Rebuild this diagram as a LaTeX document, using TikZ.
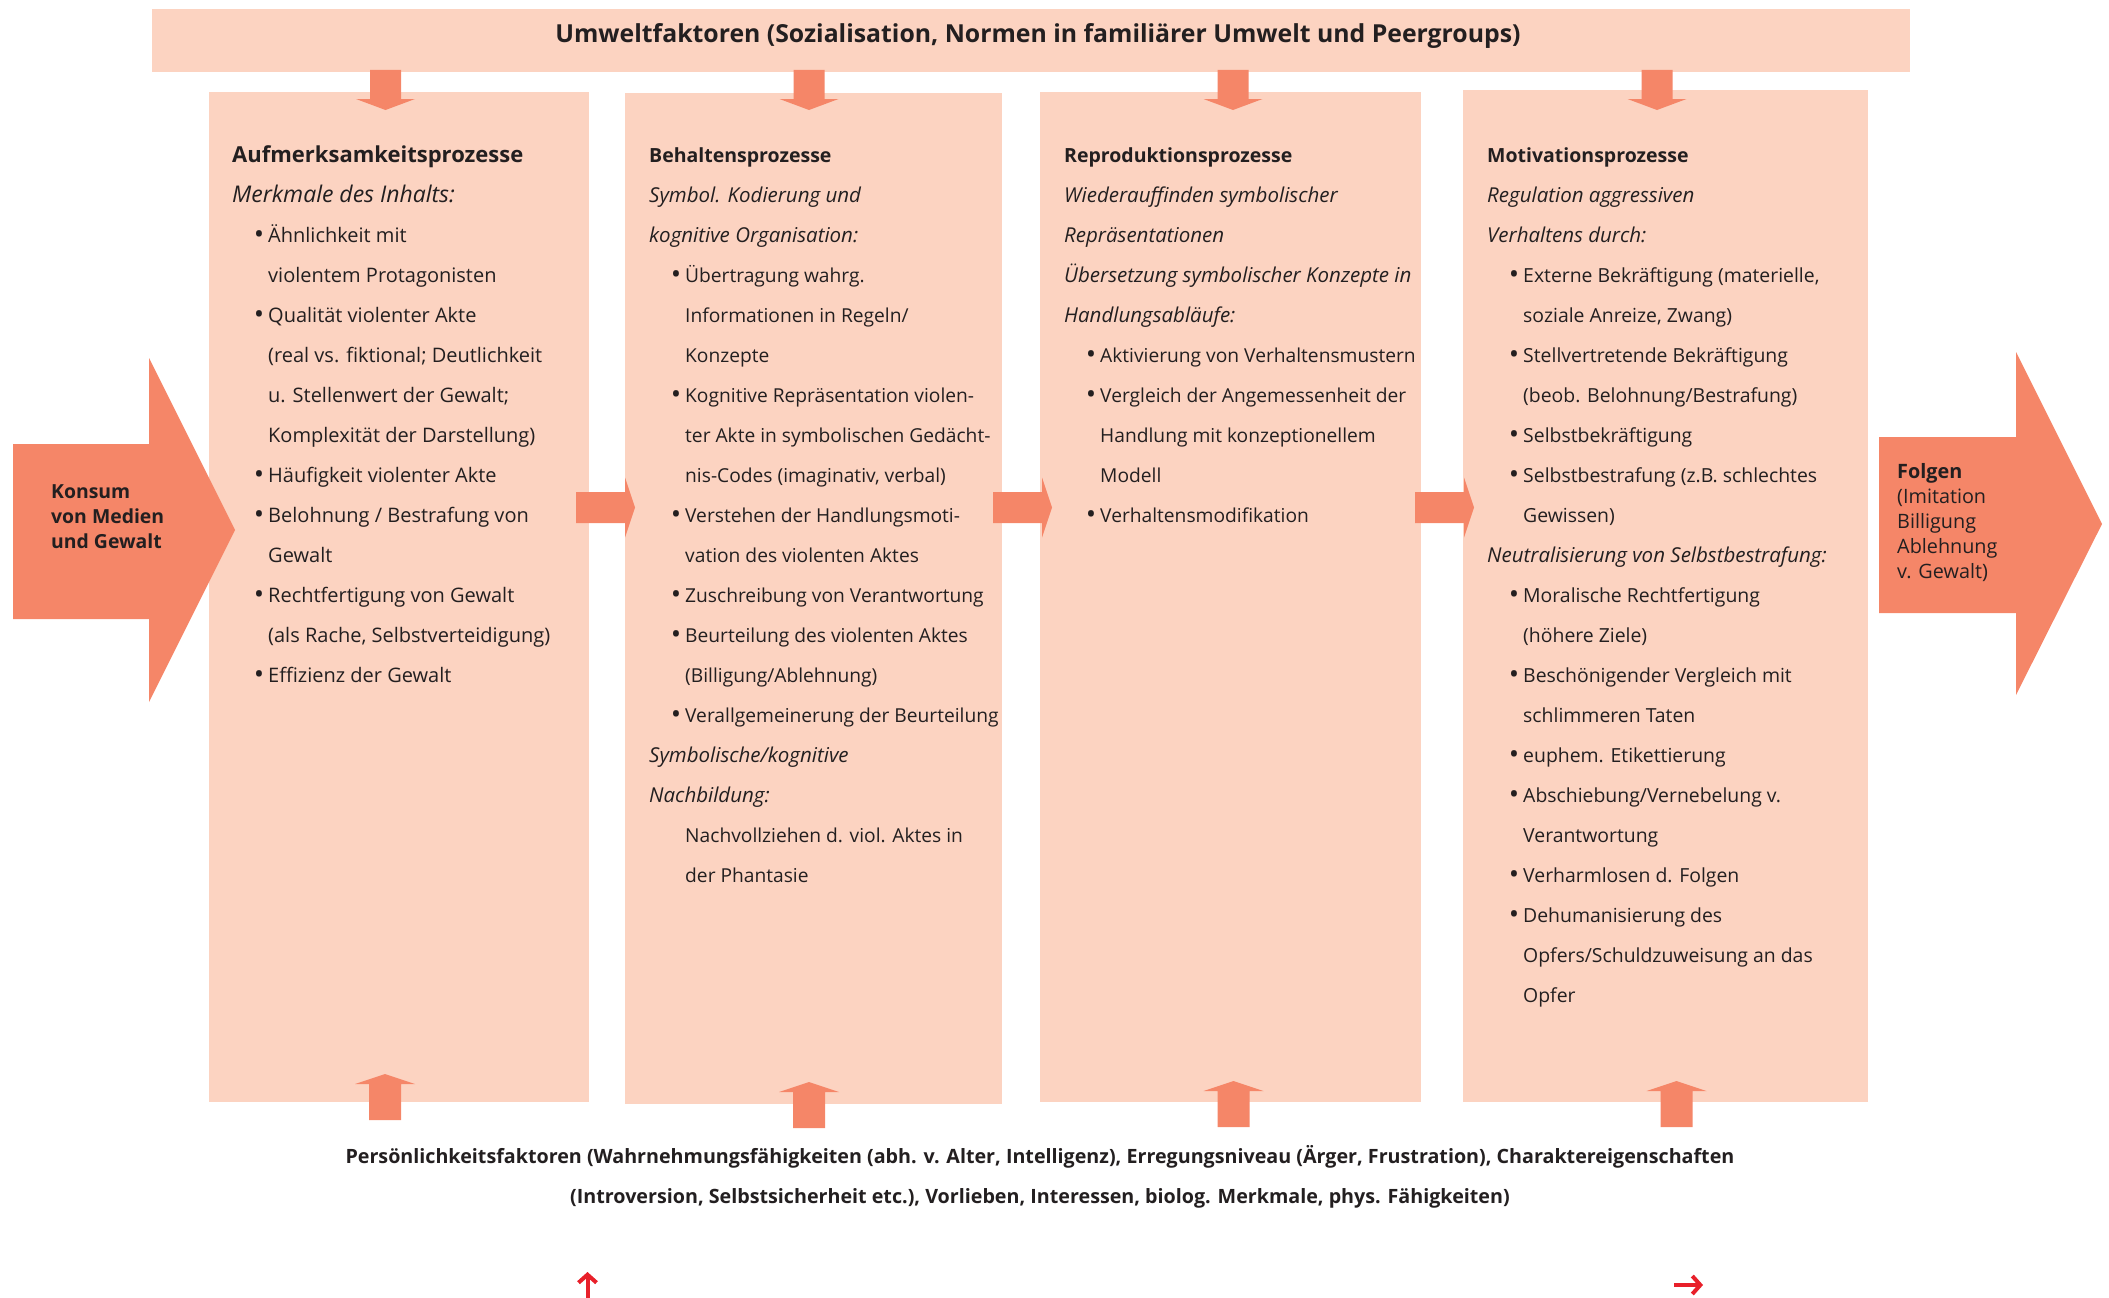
\documentclass[tikz,border=0pt]{standalone}
\usepackage{fontspec}
\setmainfont{Open Sans}
\usetikzlibrary{positioning, arrows.meta}

\definecolor{boxfill}{HTML}{FCD3C1}
\definecolor{arrfill}{HTML}{F58668}
\definecolor{ink}{HTML}{231F20}
\definecolor{markred}{HTML}{E8202A}

\newcommand{\itm}{\hspace*{23pt}\makebox[13pt][l]{\bfseries\fontsize{21}{21}\selectfont\raisebox{0.5pt}{•}}}
\newcommand{\cnt}{\hspace*{36pt}}
\newcommand{\subhead}[1]{{\itshape\fontsize{20.5}{40}\selectfont #1}}

\tikzset{
  procbox/.style={fill=boxfill, inner sep=0pt},
  blocktext/.style={anchor=north west, inner sep=0pt, align=left, text=ink},
  downarr/.pic={\fill[arrfill] (-15.5,0) -- (15.5,0) -- (15.5,29) -- (29.5,29) -- (0,40) -- (-29.5,29) -- (-15.5,29) -- cycle;},
  uparr/.pic={\fill[arrfill] (0,0) -- (30,10) -- (16,10) -- (16,46) -- (-16,46) -- (-16,10) -- (-30,10) -- cycle;},
  rightarr/.pic={\fill[arrfill] (0,-15.5) -- (49,-15.5) -- (49,-30) -- (59,0) -- (49,30) -- (49,15.5) -- (0,15.5) -- cycle;}
}

\begin{document}
\begin{tikzpicture}[x=1pt, y=-1pt]
\useasboundingbox (0,0) rectangle (2109,1298);

\node[procbox, minimum width=1758pt, minimum height=63pt] (umw) at (1031,40.5) {};
\node[procbox, minimum width=380pt, minimum height=1010pt] (auf) at (399,597) {};
\node[procbox, minimum width=377pt, minimum height=1011pt] (beh) at (813.5,598.5) {};
\node[procbox, minimum width=381pt, minimum height=1010pt] (rep) at (1230.5,597) {};
\node[procbox, minimum width=405pt, minimum height=1012pt] (mot) at (1665.5,596) {};

\node[anchor=base, inner sep=0pt, text=ink, font=\bfseries\fontsize{24.8}{30}\selectfont] (umwtext) at (1038,43)
  {Umweltfaktoren (Sozialisation, Normen in familiärer Umwelt und Peergroups)};

\foreach \x in {385.5, 809, 1233, 1657}
  \pic at (\x,70) {downarr};
\foreach \x/\y in {385/1074, 809/1082, 1233.5/1081, 1676.5/1081}
  \pic at (\x,\y) {uparr};
\foreach \x in {576, 993, 1415}
  \pic at (\x,507.5) {rightarr};

\fill[arrfill] (13,444) -- (149,444) -- (149,358) -- (235,530) -- (149,702) -- (149,619) -- (13,619) -- cycle;
\fill[arrfill] (1879,437) -- (2016,437) -- (2016,352) -- (2102,524) -- (2016,695) -- (2016,613) -- (1879,613) -- cycle;

\node[blocktext, font=\bfseries\fontsize{19.4}{25}\selectfont] (konsum) at (51,480.5)
  {\strut Konsum\\von Medien\\und Gewalt};
\node[blocktext, font=\fontsize{19.8}{25}\selectfont] (folgen) at (1897,460.5)
  {\strut\textbf{Folgen}\\(Imitation\\Billigung\\Ablehnung\\v. Gewalt)};

\node[blocktext, font=\fontsize{20}{40}\selectfont] (auftext) at (232,134) {%
  \strut{\bfseries\fontsize{22}{40}\selectfont Aufmerksamkeitsprozesse}\\
  {\itshape\fontsize{23}{40}\selectfont Merkmale des Inhalts:}\\
  \itm Ähnlichkeit mit\\
  \cnt violentem Protagonisten\\
  \itm Qualität violenter Akte\\
  \cnt (real vs. fiktional; Deutlichkeit\\
  \cnt u. Stellenwert der Gewalt;\\
  \cnt Komplexität der Darstellung)\\
  \itm Häufigkeit violenter Akte\\
  \itm Belohnung / Bestrafung von\\
  \cnt Gewalt\\
  \itm Rechtfertigung von Gewalt\\
  \cnt (als Rache, Selbstverteidigung)\\
  \itm Effizienz der Gewalt};

\node[blocktext, font=\fontsize{19.2}{40}\selectfont] (behtext) at (649,134) {%
  \strut{\bfseries\fontsize{19.5}{40}\selectfont Behaltensprozesse}\\
  \subhead{Symbol. Kodierung und}\\
  \subhead{kognitive Organisation:}\\
  \itm Übertragung wahrg.\\
  \cnt Informationen in Regeln/\\
  \cnt Konzepte\\
  \itm Kognitive Repräsentation violen-\\
  \cnt ter Akte in symbolischen Gedächt-\\
  \cnt nis-Codes (imaginativ, verbal)\\
  \itm Verstehen der Handlungsmoti-\\
  \cnt vation des violenten Aktes\\
  \itm Zuschreibung von Verantwortung\\
  \itm Beurteilung des violenten Aktes\\
  \cnt (Billigung/Ablehnung)\\
  \itm Verallgemeinerung der Beurteilung\\
  \subhead{Symbolische/kognitive}\\
  \subhead{Nachbildung:}\\
  \cnt Nachvollziehen d. viol. Aktes in\\
  \cnt der Phantasie};

\node[blocktext, font=\fontsize{19.2}{40}\selectfont] (reptext) at (1064,134) {%
  \strut{\bfseries\fontsize{19.5}{40}\selectfont Reproduktionsprozesse}\\
  \subhead{Wiederauffinden symbolischer}\\
  \subhead{Repräsentationen}\\
  \subhead{Übersetzung symbolischer Konzepte in}\\
  \subhead{Handlungsabläufe:}\\
  \itm Aktivierung von Verhaltensmustern\\
  \itm Vergleich der Angemessenheit der\\
  \cnt Handlung mit konzeptionellem\\
  \cnt Modell\\
  \itm Verhaltensmodifikation};

\node[blocktext, font=\fontsize{19.4}{40}\selectfont] (mottext) at (1487,134) {%
  \strut{\bfseries\fontsize{19.5}{40}\selectfont Motivationsprozesse}\\
  \subhead{Regulation aggressiven}\\
  \subhead{Verhaltens durch:}\\
  \itm Externe Bekräftigung (materielle,\\
  \cnt soziale Anreize, Zwang)\\
  \itm Stellvertretende Bekräftigung\\
  \cnt (beob. Belohnung/Bestrafung)\\
  \itm Selbstbekräftigung\\
  \itm Selbstbestrafung (z.B. schlechtes\\
  \cnt Gewissen)\\
  \subhead{Neutralisierung von Selbstbestrafung:}\\
  \itm Moralische Rechtfertigung\\
  \cnt (höhere Ziele)\\
  \itm Beschönigender Vergleich mit\\
  \cnt schlimmeren Taten\\
  \itm euphem. Etikettierung\\
  \itm Abschiebung/Vernebelung v.\\
  \cnt Verantwortung\\
  \itm Verharmlosen d. Folgen\\
  \itm Dehumanisierung des\\
  \cnt Opfers/Schuldzuweisung an das\\
  \cnt Opfer};

\node[anchor=north, inner sep=0pt, align=center, text=ink, font=\bfseries\fontsize{19.7}{40}\selectfont] (pers) at (1040,1135)
  {\strut Persönlichkeitsfaktoren (Wahrnehmungsfähigkeiten (abh. v. Alter, Intelligenz), Erregungsniveau (Ärger, Frustration), Charaktereigenschaften\\
   (Introversion, Selbstsicherheit etc.), Vorlieben, Interessen, biolog. Merkmale, phys. Fähigkeiten)};

\coordinate (upfoot) at (587.5,1298);
\coordinate (uptip) at (587.5,1272);
\coordinate (rtstart) at (1674,1285);
\coordinate (rtend) at (1703,1285);
\draw[markred, line width=4pt, -{Straight Barb[length=8pt, width=18pt]}] (upfoot) -- (uptip);
\draw[markred, line width=4pt, -{Straight Barb[length=8pt, width=18pt]}] (rtstart) -- (rtend);
\end{tikzpicture}
\end{document}
